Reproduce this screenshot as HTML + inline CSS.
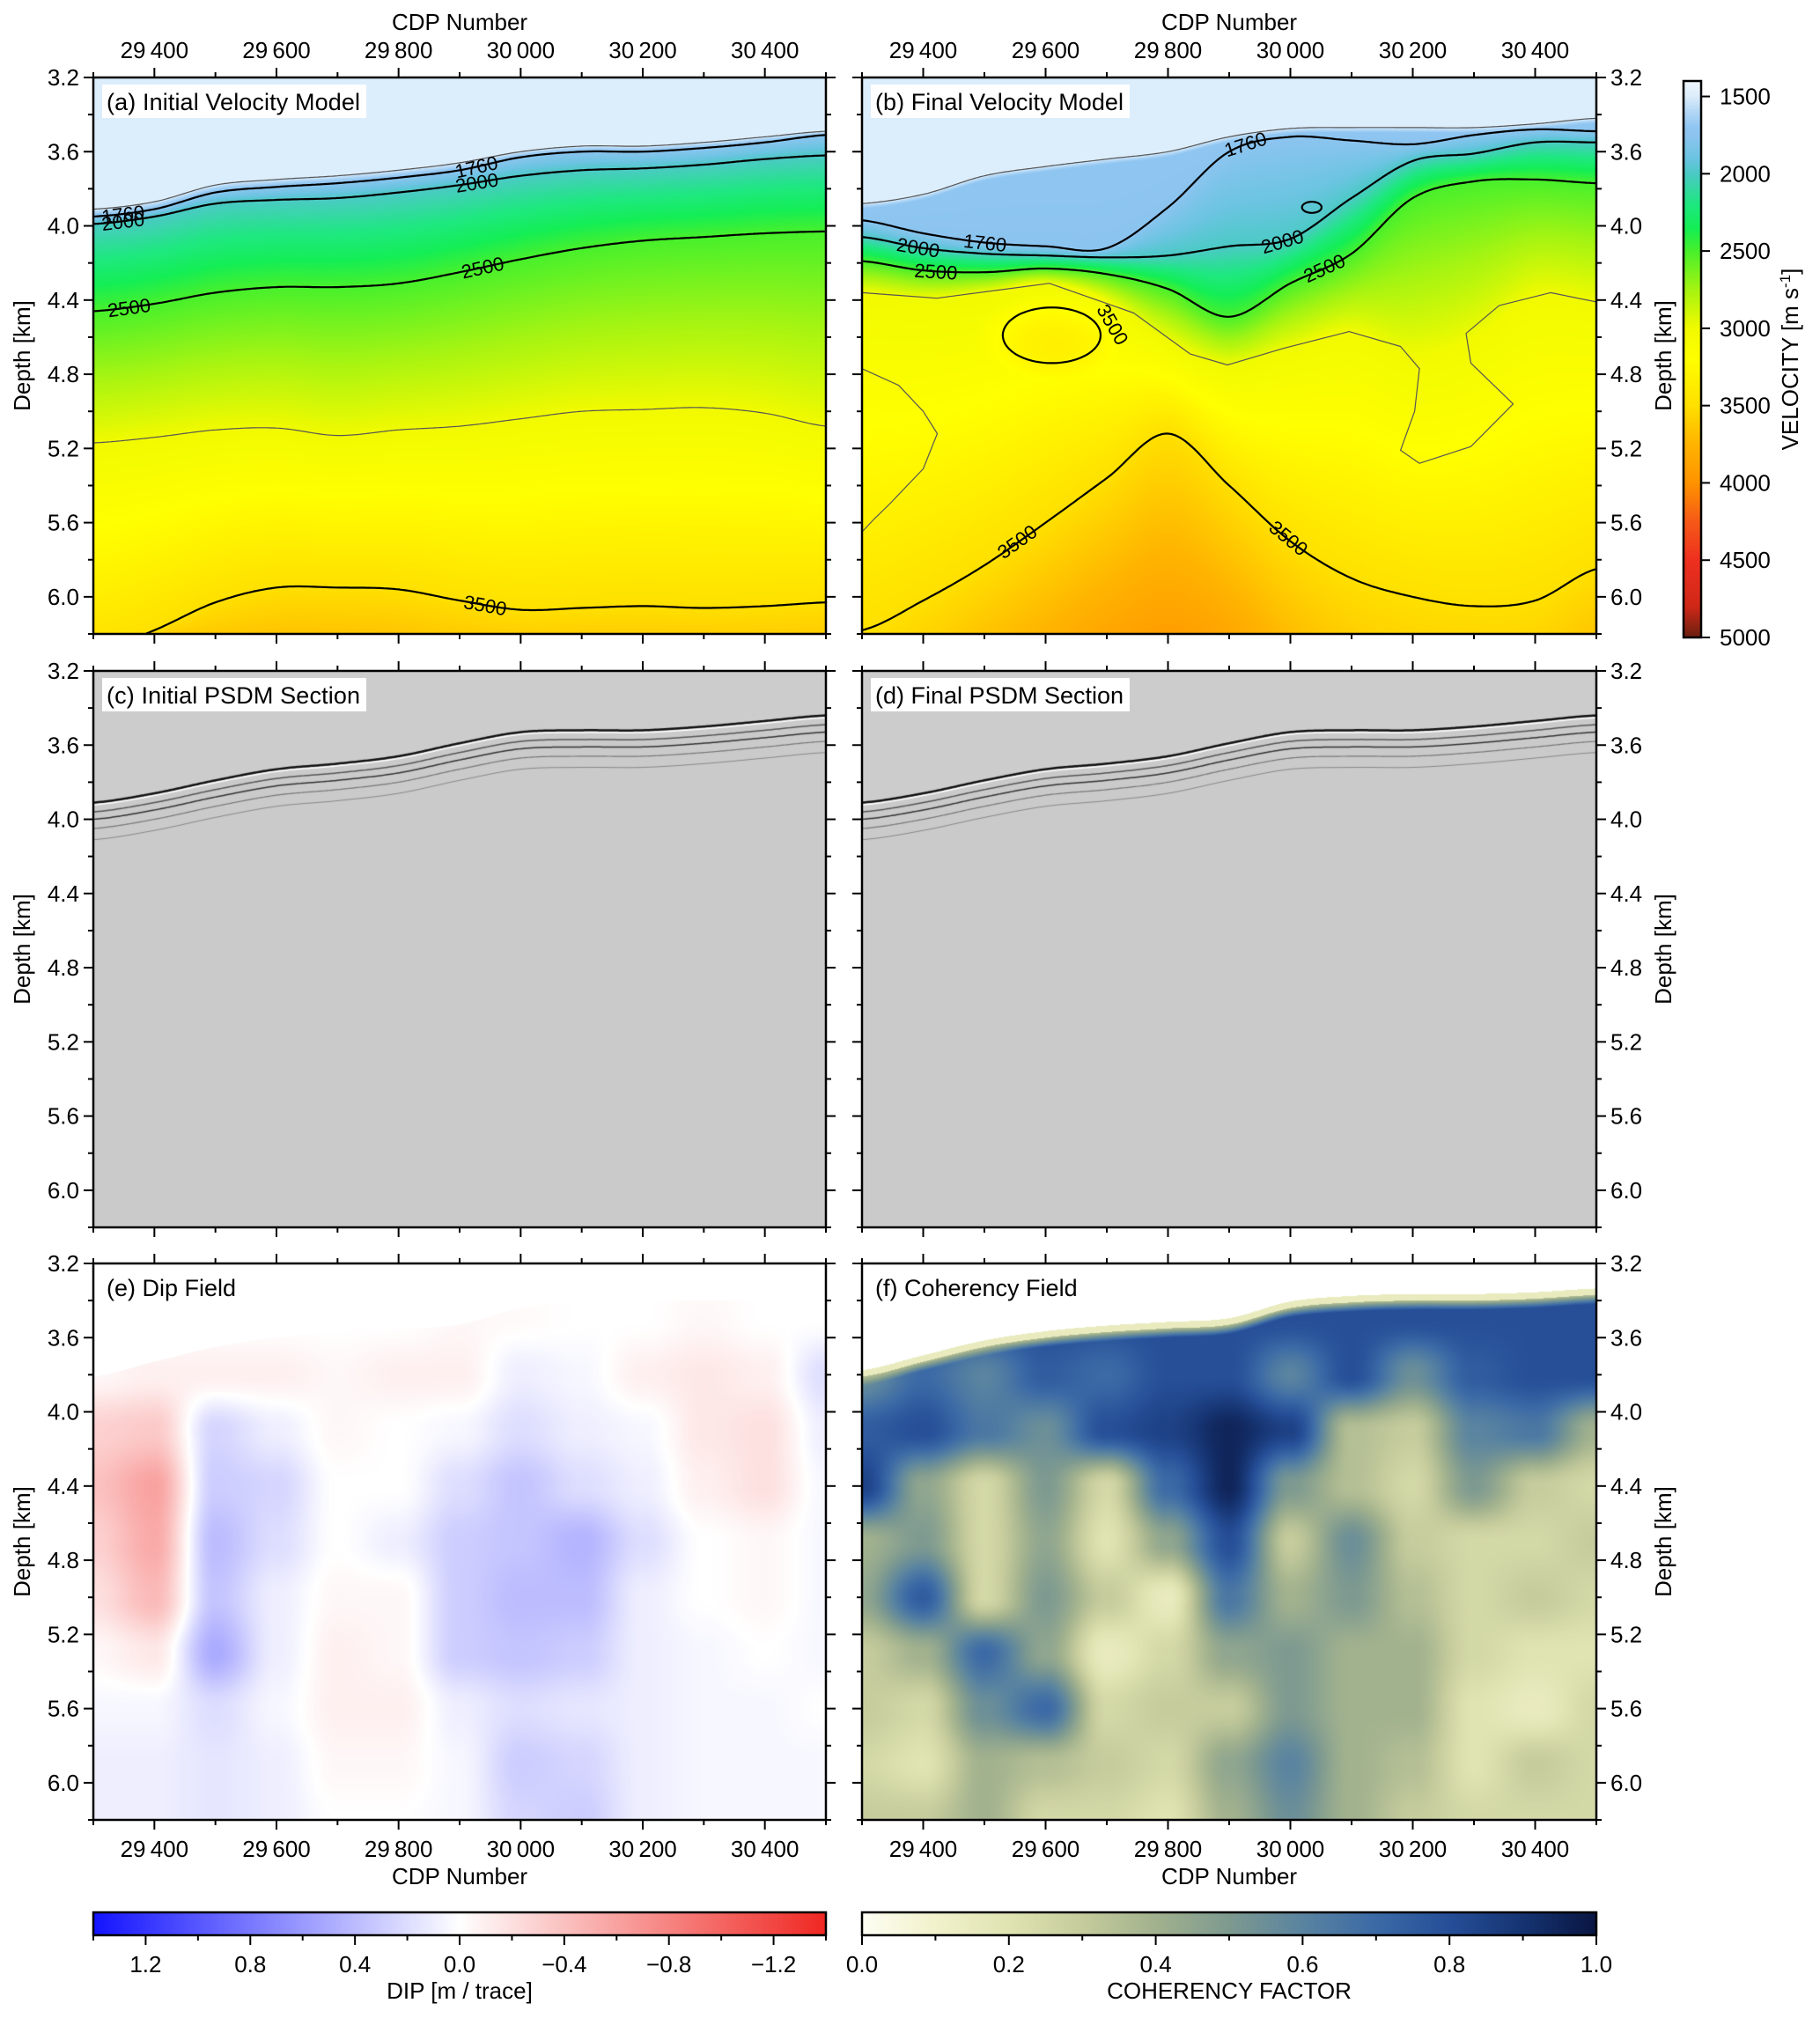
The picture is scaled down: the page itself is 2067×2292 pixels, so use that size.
<!DOCTYPE html>
<html><head><meta charset="utf-8">
<style>
body{margin:0;background:#fff;width:2067px;height:2292px;position:relative;overflow:hidden;font-family:"Liberation Sans",sans-serif}
canvas{position:absolute}
#ov{position:absolute;left:0;top:0}
</style></head>
<body>
<canvas id="cA" width="832" height="632" style="left:106px;top:88px"></canvas>
<canvas id="cB" width="834" height="632" style="left:979px;top:88px"></canvas>
<canvas id="cC" width="832" height="632" style="left:106px;top:762px"></canvas>
<canvas id="cD" width="834" height="632" style="left:979px;top:762px"></canvas>
<canvas id="cE" width="832" height="632" style="left:106px;top:1435px"></canvas>
<canvas id="cF" width="834" height="632" style="left:979px;top:1435px"></canvas>
<canvas id="cbV" width="20" height="632" style="left:1912px;top:92px"></canvas>
<canvas id="cbD" width="832" height="26" style="left:106px;top:2172px"></canvas>
<canvas id="cbC" width="834" height="26" style="left:979px;top:2172px"></canvas>
<svg id="ov" width="2067" height="2292" xmlns="http://www.w3.org/2000/svg"></svg>
<script>
// ---------- data (CDP 29300..30500 step 100, depths in km) ----------
const cdpTicks = [29400,29600,29800,30000,30200,30400];
const depthTicks = [3.2,3.6,4.0,4.4,4.8,5.2,5.6,6.0];
// panel (a) initial velocity contours
const aSea  = [3.91,3.87,3.78,3.75,3.73,3.70,3.66,3.60,3.57,3.57,3.55,3.52,3.49];
const a1760 = [3.95,3.91,3.82,3.79,3.77,3.74,3.70,3.63,3.60,3.60,3.58,3.55,3.51];
const a2000 = [3.99,3.95,3.88,3.86,3.85,3.82,3.78,3.73,3.70,3.69,3.67,3.64,3.62];
const a2500 = [4.46,4.42,4.36,4.33,4.33,4.31,4.25,4.18,4.12,4.08,4.06,4.04,4.03];
const a3000 = [5.17,5.14,5.10,5.09,5.13,5.10,5.08,5.04,5.00,4.99,4.98,5.01,5.08];
const a3500 = [6.30,6.18,6.03,5.95,5.95,5.96,6.02,6.07,6.06,6.05,6.06,6.05,6.03];
const aBottomV = [3560,3590,3630,3660,3660,3650,3620,3600,3600,3600,3600,3600,3610];
// panel (b) final velocity contours
const bSea  = [3.88,3.83,3.73,3.68,3.64,3.60,3.52,3.475,3.47,3.47,3.47,3.45,3.42];
const b1760 = [3.97,4.04,4.09,4.11,4.12,3.90,3.60,3.52,3.54,3.56,3.51,3.48,3.49];
const b2000 = [4.06,4.12,4.15,4.16,4.17,4.16,4.11,4.07,3.85,3.65,3.61,3.55,3.55];
const b2500 = [4.19,4.24,4.25,4.23,4.26,4.34,4.49,4.31,4.15,3.85,3.76,3.75,3.77];
const b3000 = [4.36,4.39,4.36,4.31,4.40,4.62,4.75,4.66,4.57,4.70,4.60,4.38,4.41];
const b3500 = [6.18,6.02,5.83,5.60,5.36,5.12,5.40,5.70,5.90,6.00,6.05,6.02,5.85];
const bBottomV = [3500,3560,3660,3760,3860,3920,3850,3700,3600,3560,3550,3560,3640];
const b3000LineCdp = [29300,29422,29606,29744,29836,29897,29989,30096,30180,30211,30203,30180,30211,30295,30364,30295,30287,30341,30425,30500];
const b3000LineDep = [4.36,4.39,4.31,4.47,4.69,4.75,4.66,4.57,4.65,4.77,5.00,5.21,5.28,5.19,4.96,4.74,4.58,4.43,4.36,4.41];
const bLoopCdp = [29300,29360,29400,29423,29400,29345,29320,29300];
const bLoopDep = [4.77,4.86,5.00,5.12,5.31,5.50,5.58,5.65];
const bEll3500 = {cdp:29610, dep:4.59, rc:80, rd:0.15};
const bEll2000 = {cdp:30035, dep:3.90, rc:16, rd:0.03};
// panels (c)/(d) seafloor
const seaSeis = [3.91,3.86,3.79,3.73,3.70,3.66,3.59,3.53,3.52,3.52,3.50,3.47,3.44];
// panel (e) dip grid rows at depth 3.2 + 0.3*k
const dipRows = [
 [0,0,0,0,0,0,0,0,0,0,0,0,0],
 [0,0,0,0,0,0,-0.05,-0.03,0,0,-0.05,0,0],
 [-0.05,-0.1,-0.1,-0.1,-0.05,-0.1,-0.1,0.1,0.05,-0.1,-0.15,-0.1,0.2],
 [-0.3,-0.35,0.25,0.1,-0.05,0,0.05,0.2,0.1,0.05,-0.15,-0.2,0.1],
 [-0.4,-0.6,0.3,0.25,0,0,0.2,0.35,0.2,0.1,-0.1,-0.2,0.05],
 [-0.3,-0.55,0.4,0.2,0,0.1,0.3,0.35,0.45,0.2,0,-0.05,0.05],
 [-0.2,-0.45,0.35,0.1,-0.05,-0.05,0.3,0.4,0.4,0.1,0,-0.05,0.05],
 [-0.05,-0.15,0.5,0.1,-0.1,-0.05,0.3,0.35,0.3,0.1,0.05,0,0.05],
 [0.05,0.05,0.2,0.05,-0.1,-0.1,0.1,0.2,0.15,0.1,0.05,0.05,0],
 [0.1,0.1,0.15,0.1,-0.05,-0.05,0.05,0.3,0.25,0.1,0.05,0.05,0.05],
 [0.1,0.1,0.15,0.1,0,0,0.05,0.25,0.3,0.1,0.05,0.05,0.05]];
// panel (f) coherency grid
const seaF = [3.81,3.73,3.65,3.60,3.57,3.55,3.53,3.44,3.41,3.40,3.40,3.39,3.37];
const cohRows = [
 [0.8,0.8,0.8,0.8,0.8,0.8,0.8,0.8,0.8,0.8,0.8,0.8,0.8],
 [0.8,0.8,0.8,0.8,0.8,0.8,0.8,0.8,0.8,0.8,0.8,0.8,0.8],
 [0.55,0.7,0.6,0.75,0.7,0.8,0.8,0.6,0.8,0.55,0.75,0.8,0.8],
 [0.75,0.8,0.65,0.55,0.8,0.85,0.95,0.85,0.35,0.3,0.6,0.65,0.4],
 [0.85,0.45,0.25,0.5,0.25,0.7,0.95,0.5,0.35,0.25,0.5,0.3,0.25],
 [0.4,0.5,0.25,0.45,0.2,0.45,0.8,0.3,0.55,0.3,0.25,0.25,0.3],
 [0.45,0.75,0.25,0.5,0.3,0.15,0.65,0.4,0.5,0.35,0.25,0.3,0.25],
 [0.3,0.4,0.7,0.45,0.15,0.25,0.45,0.5,0.4,0.4,0.25,0.2,0.2],
 [0.3,0.25,0.55,0.7,0.25,0.3,0.3,0.5,0.4,0.4,0.2,0.15,0.25],
 [0.25,0.2,0.4,0.35,0.3,0.25,0.45,0.6,0.4,0.35,0.2,0.3,0.25],
 [0.3,0.3,0.4,0.25,0.25,0.2,0.4,0.55,0.4,0.3,0.25,0.25,0.25]];
const velTicks = [1500,2000,2500,3000,3500,4000,4500,5000];
const dipTicks = [1.2,0.8,0.4,0.0,-0.4,-0.8,-1.2];
const cohTicks = [0.0,0.2,0.4,0.6,0.8,1.0];

// ---------- scales ----------
const X0=29300,X1=30500,D0=3.2,D1=6.2;
const P={a:{x:106,y:88,w:832,h:632},b:{x:979,y:88,w:834,h:632},
 c:{x:106,y:762,w:832,h:632},d:{x:979,y:762,w:834,h:632},
 e:{x:106,y:1435,w:832,h:632},f:{x:979,y:1435,w:834,h:632}};
function sx(p,c){return p.x+(c-X0)/(X1-X0)*p.w;}
function sy(p,d){return p.y+(d-D0)/(D1-D0)*p.h;}
function cr(arr,c){let t=(c-X0)/100;let i=Math.floor(t);if(i<0)i=0;if(i>arr.length-2)i=arr.length-2;const u=t-i;
 const p0=arr[Math.max(i-1,0)],p1=arr[i],p2=arr[i+1],p3=arr[Math.min(i+2,arr.length-1)];
 return 0.5*(2*p1+(-p0+p2)*u+(2*p0-5*p1+4*p2-p3)*u*u+(-p0+3*p1-3*p2+p3)*u*u*u);}
function hex(h){return [parseInt(h.slice(1,3),16),parseInt(h.slice(3,5),16),parseInt(h.slice(5,7),16)];}
function mkmap(stops){const s=stops.map(x=>[x[0],hex(x[1])]);return v=>{if(v<=s[0][0])return s[0][1];
 for(let i=1;i<s.length;i++){if(v<=s[i][0]){const t=(v-s[i-1][0])/(s[i][0]-s[i-1][0]);const a=s[i-1][1],b=s[i][1];
 return [a[0]+(b[0]-a[0])*t,a[1]+(b[1]-a[1])*t,a[2]+(b[2]-a[2])*t];}}return s[s.length-1][1];};}
const velMap=mkmap([[1400,'#f2f8fe'],[1500,'#dcedfb'],[1600,'#b4d8f6'],[1700,'#90c6f2'],[1760,'#8cc4f0'],[1900,'#6cc4e2'],[2000,'#4ccac6'],
 [2200,'#1ee880'],[2350,'#14ee56'],[2500,'#48f02c'],[2750,'#a6f412'],[3000,'#f2fa00'],[3200,'#ffff00'],[3500,'#ffe000'],
 [3750,'#ffb400'],[4000,'#ff9400'],[4250,'#f65a18'],[4500,'#ee3020'],[4800,'#d02818'],[5000,'#6a2010']]);
const dipMap=v=>{const t=Math.min(Math.abs(v)/1.4,1);return v>=0?[255-235*t,255-235*t,255]:[255-15*t,255-215*t,255-220*t];};
const cohMap=mkmap([[0,'#fefef4'],[0.1,'#f2f2cc'],[0.2,'#e0e4b2'],[0.3,'#c6cc9c'],[0.4,'#a2b28e'],[0.5,'#7e9a90'],
 [0.6,'#5a84a0'],[0.7,'#3c6aa6'],[0.8,'#264f98'],[0.9,'#163472'],[1.0,'#0a1642']]);

function renderVel(id,p,layers,vals,bottom,extra){
 const cv=document.getElementById(id),ctx=cv.getContext('2d');const img=ctx.createImageData(p.w,p.h);
 for(let px=0;px<p.w;px++){const c=X0+(px+0.5)/p.w*(X1-X0);const ds=layers.map(a=>cr(a,c));
  for(let i=1;i<ds.length;i++)if(ds[i]<ds[i-1]+0.005)ds[i]=ds[i-1]+0.005;const vb=cr(bottom,c);
  for(let py=0;py<p.h;py++){const d=D0+(py+0.5)/p.h*(D1-D0);let v;
   if(d<ds[0])v=1500;else{let k=ds.length-1;for(let i=0;i<ds.length-1;i++){if(d<ds[i+1]){k=i;break;}}
    if(k<ds.length-1){v=vals[k]+(vals[k+1]-vals[k])*(d-ds[k])/(ds[k+1]-ds[k]);}
    else{const last=ds[ds.length-1];v=vals[vals.length-1]+(vb-vals[vals.length-1])*Math.min(1,(d-last)/Math.max(D1-last,0.05));}}
   if(extra)v=extra(c,d,v);
   const col=velMap(v);const o=(py*p.w+px)*4;img.data[o]=col[0];img.data[o+1]=col[1];img.data[o+2]=col[2];img.data[o+3]=255;}}
 ctx.putImageData(img,0,0);}
renderVel('cA',P.a,[aSea,a1760,a2000,a2500,a3000,a3500],[1520,1760,2000,2500,3000,3500],aBottomV);
renderVel('cB',P.b,[bSea,bSea.map(v=>v+0.03),b1760,b2000,b2500,b3000,b3500],[1520,1720,1760,2000,2500,3000,3500],bBottomV,
 (c,d,v)=>{const e=((c-bEll3500.cdp)/bEll3500.rc)**2+((d-bEll3500.dep)/bEll3500.rd)**2;if(e<2.5&&v>3000)v+=Math.max(0,(2.5-e))*90;return v;});

function renderSeis(id,p){const ctx=document.getElementById(id).getContext('2d');
 ctx.fillStyle='#cccccc';ctx.fillRect(0,0,p.w,p.h);ctx.fillStyle='#cacaca';ctx.beginPath();
 for(let px=0;px<=p.w;px+=2){const c=X0+px/p.w*(X1-X0);ctx.lineTo(px,sy({y:0,h:p.h},cr(seaSeis,c)));}
 ctx.lineTo(p.w,p.h);ctx.lineTo(0,p.h);ctx.closePath();ctx.fill();
 const offs=[[0.0,'#111',2.5],[0.012,'#fff',1.5],[0.05,'#555',1.5],[0.09,'#333',1.5],[0.14,'#777',1.2],[0.2,'#888',1]];
 offs.forEach(o=>{ctx.strokeStyle=o[1];ctx.lineWidth=o[2];ctx.beginPath();
  for(let px=0;px<=p.w;px+=2){const c=X0+px/p.w*(X1-X0);ctx.lineTo(px,sy({y:0,h:p.h},cr(seaSeis,c)+o[0]));}ctx.stroke();});}
renderSeis('cC',P.c);renderSeis('cD',P.d);

function gridVal(rows,c,d){const t=(c-X0)/100;let i=Math.min(Math.max(Math.floor(t),0),11);const u=t-i;
 const s=(d-D0)/0.3;let j=Math.min(Math.max(Math.floor(s),0),rows.length-2);const w=s-j;
 const sm=x=>x*x*(3-2*x);const uu=sm(Math.min(Math.max(u,0),1)),ww=sm(Math.min(Math.max(w,0),1));
 return (rows[j][i]*(1-uu)+rows[j][i+1]*uu)*(1-ww)+(rows[j+1][i]*(1-uu)+rows[j+1][i+1]*uu)*ww;}
function renderGrid(id,p,rows,map,sea,halo){const ctx=document.getElementById(id).getContext('2d');const img=ctx.createImageData(p.w,p.h);
 for(let px=0;px<p.w;px++){const c=X0+(px+0.5)/p.w*(X1-X0);const s=cr(sea,c);
  for(let py=0;py<p.h;py++){const d=D0+(py+0.5)/p.h*(D1-D0);let col;
   if(d<s){col=(halo&&d>s-0.035)?map(0.15):[255,255,255];}else{let v=gridVal(rows,c,d);if(halo&&d<s+0.05)v=0.35+(v-0.35)*(d-s)/0.05;col=map(v);}
   const o=(py*p.w+px)*4;img.data[o]=col[0];img.data[o+1]=col[1];img.data[o+2]=col[2];img.data[o+3]=255;}}
 ctx.putImageData(img,0,0);}
renderGrid('cE',P.e,dipRows,dipMap,seaF,false);
renderGrid('cF',P.f,cohRows,cohMap,seaF,true);

// colorbars
(function(){let ctx=document.getElementById('cbV').getContext('2d');
 for(let y=0;y<632;y++){const v=1400+(y+0.5)/632*3600;const c=velMap(v);ctx.fillStyle=`rgb(${c[0]|0},${c[1]|0},${c[2]|0})`;ctx.fillRect(0,y,20,1);}
 ctx=document.getElementById('cbD').getContext('2d');
 for(let x=0;x<832;x++){const v=1.4-(x+0.5)/832*2.8;const c=dipMap(v);ctx.fillStyle=`rgb(${c[0]|0},${c[1]|0},${c[2]|0})`;ctx.fillRect(x,0,1,26);}
 ctx=document.getElementById('cbC').getContext('2d');
 for(let x=0;x<834;x++){const v=(x+0.5)/834;const c=cohMap(v);ctx.fillStyle=`rgb(${c[0]|0},${c[1]|0},${c[2]|0})`;ctx.fillRect(x,0,1,26);}})();

// ---------- overlay ----------
const NS='http://www.w3.org/2000/svg';const svg=document.getElementById('ov');
const FS=26;
function el(tag,attrs,parent){const e=document.createElementNS(NS,tag);for(const k in attrs)e.setAttribute(k,attrs[k]);(parent||svg).appendChild(e);return e;}
function txt(x,y,s,size,anchor,parent,rot){const t=el('text',{x:x,y:y,'font-size':size,'text-anchor':anchor||'middle','font-family':'Liberation Sans, sans-serif',fill:'#000'},parent);
 if(rot)t.setAttribute('transform',`rotate(${rot} ${x} ${y})`);t.textContent=s;return t;}
function fmtC(c){const s=String(c);return s.slice(0,2)+'\u2009'+s.slice(2);}

const defs=el('defs',{});
Object.keys(P).forEach(k=>{const p=P[k];const cp=el('clipPath',{id:'clip'+k},defs);el('rect',{x:p.x,y:p.y,width:p.w,height:p.h},cp);});

function linePath(p,arr,c0,c1){let d='';for(let c=c0;c<=c1;c+=4){d+=(d?'L':'M')+sx(p,c).toFixed(1)+','+sy(p,cr(arr,c)).toFixed(1);}return d;}
function ptsPath(p,cs,ds){let d='';for(let i=0;i<cs.length;i++){d+=(i?'L':'M')+sx(p,cs[i]).toFixed(1)+','+sy(p,ds[i]).toFixed(1);}return d;}
function ellPath(p,e){let d='';for(let a=0;a<=360;a+=6){const r=a*Math.PI/180;d+=(a?'L':'M')+sx(p,e.cdp+e.rc*Math.cos(r)).toFixed(1)+','+sy(p,e.dep+e.rd*Math.sin(r)).toFixed(1);}return d+'Z';}
function contour(k,dpath,name,thin){const g=el('path',{d:dpath,fill:'none',stroke:thin?'#555':'#000','stroke-width':thin?1.2:2.2,'stroke-linejoin':'round','clip-path':`url(#clip${k})`});
 return g;}
function clabel(k,arr,c,s){const p=P[k];const y1=sy(p,cr(arr,c-10)),y2=sy(p,cr(arr,c+10));const ang=Math.atan2(y2-y1,sx(p,c+10)-sx(p,c-10))*180/Math.PI;
 const x=sx(p,c),y=sy(p,cr(arr,c));const t=txt(x,y+8,s,22,'middle',svg,ang);
 }

// panel a contours
contour('a',linePath(P.a,aSea,X0,X1),'seafloor-contour-a',true);
contour('a',linePath(P.a,a1760,X0,X1),'contour-1760-a');
contour('a',linePath(P.a,a2000,X0,X1),'contour-2000-a');
contour('a',linePath(P.a,a2500,X0,X1),'contour-2500-a');
contour('a',linePath(P.a,a3000,X0,X1),'contour-3000-a',true);
contour('a',linePath(P.a,a3500,X0,X1),'contour-3500-a');
clabel('a',a1760,29350,'1760');clabel('a',a1760,29930,'1760');
clabel('a',a2000,29350,'2000');clabel('a',a2000,29930,'2000');
clabel('a',a2500,29360,'2500');clabel('a',a2500,29940,'2500');clabel('a',a3500,29940,'3500');
// panel b contours
contour('b',linePath(P.b,bSea,X0,X1),'seafloor-contour-b',true);
contour('b',linePath(P.b,b1760,X0,X1),'contour-1760-b');
contour('b',linePath(P.b,b2000,X0,X1),'contour-2000-b');
contour('b',linePath(P.b,b2500,X0,X1),'contour-2500-b');
contour('b',ptsPath(P.b,b3000LineCdp,b3000LineDep),'contour-3000-b',true);
contour('b',ptsPath(P.b,bLoopCdp,bLoopDep),'contour-3000-loop-b',true);
contour('b',linePath(P.b,b3500,X0,X1),'contour-3500-b');
contour('b',ellPath(P.b,bEll3500),'contour-3500-ellipse-b');
contour('b',ellPath(P.b,bEll2000),'contour-2000-ellipse-b');
clabel('b',b1760,29500,'1760');clabel('b',b1760,29930,'1760');
clabel('b',b2000,29390,'2000');clabel('b',b2000,29990,'2000');
clabel('b',b2500,29420,'2500');clabel('b',b2500,30060,'2500');
clabel('b',b3500,29560,'3500');clabel('b',b3500,29990,'3500');
txt(sx(P.b,29700),sy(P.b,4.55),'3500',22,'middle',svg,60);

// panel frames, ticks, labels
const titles={a:'(a) Initial Velocity Model',b:'(b) Final Velocity Model',c:'(c) Initial PSDM Section',d:'(d) Final PSDM Section',e:'(e) Dip Field',f:'(f) Coherency Field'};
const boxW={a:300,b:294,c:300,d:294,e:0,f:0};
Object.keys(P).forEach(k=>{const p=P[k];const g=el('g',{});
 
 if(boxW[k]){const r=el('rect',{x:p.x+10,y:p.y+8,width:boxW[k],height:38,fill:'#fff'},g);}
 const tt=txt(p.x+15,p.y+37,titles[k],27,'start',g);
 if(boxW[k])tt.setAttribute('textLength',boxW[k]-12);
 el('rect',{x:p.x,y:p.y,width:p.w,height:p.h,fill:'none',stroke:'#000','stroke-width':2.5},g);
 for(let c=X0;c<=X1;c+=100){const maj=cdpTicks.includes(c);const L=maj?11:6;const x=sx(p,c);
  el('line',{x1:x,y1:p.y,x2:x,y2:p.y-L,stroke:'#000','stroke-width':2},g);
  el('line',{x1:x,y1:p.y+p.h,x2:x,y2:p.y+p.h+L,stroke:'#000','stroke-width':2},g);}
 for(let i=0;i<=15;i++){const d=D0+i*0.2;const maj=i%2==0&&i<15;const L=maj?11:6;const y=sy(p,d);
  el('line',{x1:p.x,y1:y,x2:p.x-L,y2:y,stroke:'#000','stroke-width':2},g);
  el('line',{x1:p.x+p.w,y1:y,x2:p.x+p.w+L,y2:y,stroke:'#000','stroke-width':2},g);}
 const left=(k=='a'||k=='c'||k=='e');
 depthTicks.forEach(d=>{const t=left?txt(p.x-16,sy(p,d)+9,d.toFixed(1),FS,'end',g):txt(p.x+p.w+16,sy(p,d)+9,d.toFixed(1),FS,'start',g);
  });
 const yt=left?txt(34,p.y+p.h/2,'Depth [km]',FS,'middle',g,-90):txt(1898,p.y+p.h/2,'Depth [km]',FS,'middle',g,-90);
 
 if(k=='a'||k=='b'){cdpTicks.forEach(c=>{const t=txt(sx(p,c),p.y-22,fmtC(c),FS,'middle',g);});
  const xt=txt(p.x+p.w/2,p.y-54,'CDP Number',FS,'middle',g);}
 if(k=='e'||k=='f'){cdpTicks.forEach(c=>{const t=txt(sx(p,c),p.y+p.h+42,fmtC(c),FS,'middle',g);});
  const xt=txt(p.x+p.w/2,p.y+p.h+73,'CDP Number',FS,'middle',g);}
});

// velocity colorbar axis
(function(){const g=el('g',{});
 el('rect',{x:1912,y:92,width:20,height:632,fill:'none',stroke:'#000','stroke-width':2.5},g);
 velTicks.forEach(v=>{const y=92+(v-1400)/3600*632;el('line',{x1:1932,y1:y,x2:1942,y2:y,stroke:'#000','stroke-width':2},g);
  const t=txt(1953,y+9,String(v),FS,'start',g);});
 const t=el('text',{x:2042,y:408,'font-size':FS,'text-anchor':'middle','font-family':'Liberation Sans, sans-serif',transform:'rotate(-90 2042 408)'},g);
 t.textContent='VELOCITY [m s';const sp=el('tspan',{'baseline-shift':'super','font-size':17},t);sp.textContent='-1';const sp2=el('tspan',{},t);sp2.textContent=']';
 })();
// dip colorbar axis
(function(){const g=el('g',{});
 const x0=106,w=832;el('rect',{x:x0,y:2172,width:w,height:26,fill:'none',stroke:'#000','stroke-width':2.5},g);
 for(let i=0;i<=14;i++){const v=1.4-i*0.2;const x=x0+(1.4-v)/2.8*w;const maj=dipTicks.some(t=>Math.abs(t-v)<1e-6);
  el('line',{x1:x,y1:2198,x2:x,y2:2198+(maj?11:6),stroke:'#000','stroke-width':2},g);}
 dipTicks.forEach(v=>{const x=x0+(1.4-v)/2.8*w;const t=txt(x,2240,(v===0?'0.0':(v<0?'\u2212'+Math.abs(v).toFixed(1):v.toFixed(1))),FS,'middle',g);
  });
 const t=txt(x0+w/2,2270,'DIP [m / trace]',FS,'middle',g);})();
// coherency colorbar axis
(function(){const g=el('g',{});
 const x0=979,w=834;el('rect',{x:x0,y:2172,width:w,height:26,fill:'none',stroke:'#000','stroke-width':2.5},g);
 for(let i=0;i<=10;i++){const x=x0+i/10*w;const maj=i%2==0;el('line',{x1:x,y1:2198,x2:x,y2:2198+(maj?11:6),stroke:'#000','stroke-width':2},g);}
 cohTicks.forEach(v=>{const t=txt(x0+v*w,2240,v.toFixed(1),FS,'middle',g);});
 const t=txt(x0+w/2,2270,'COHERENCY FACTOR',FS,'middle',g);})();
</script>
</body></html>
